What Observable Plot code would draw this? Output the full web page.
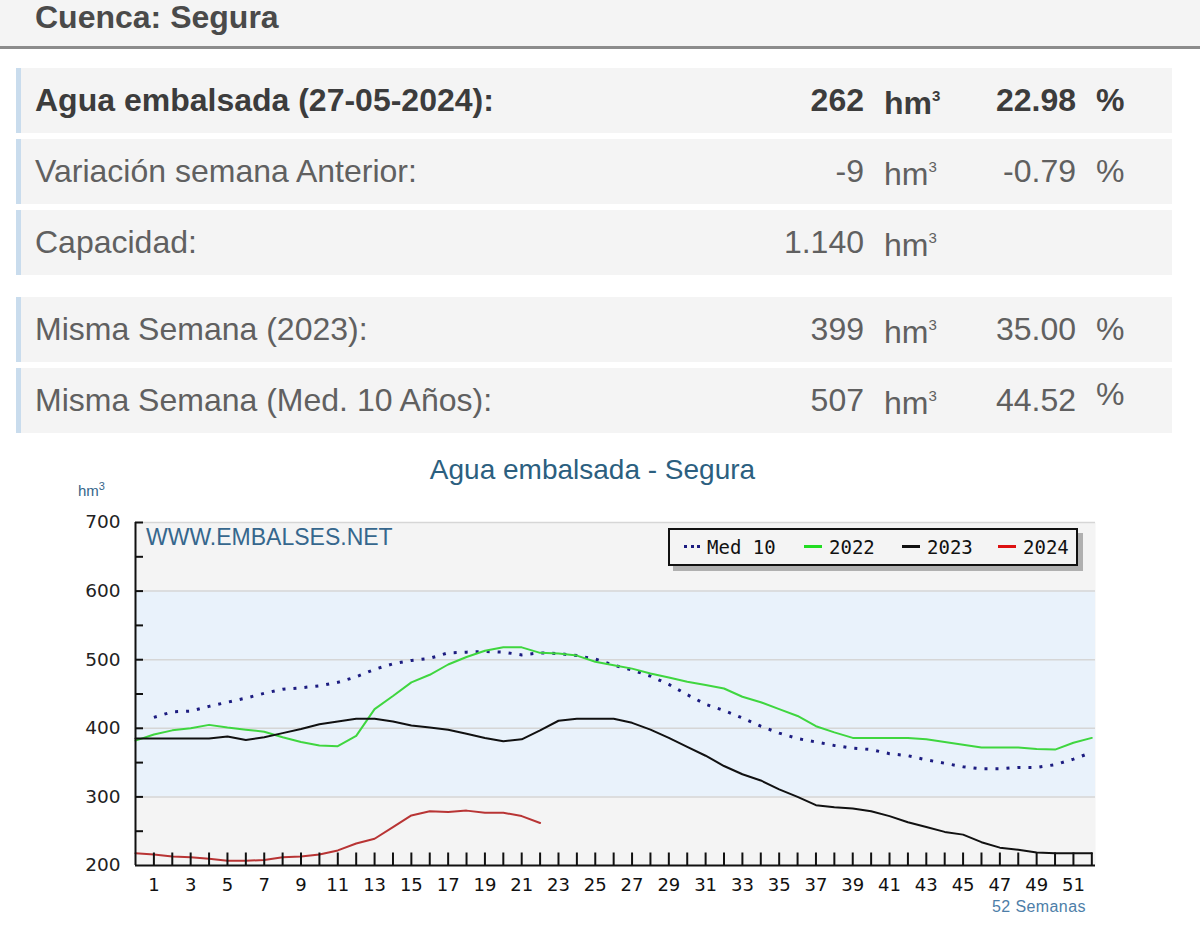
<!DOCTYPE html>
<html><head><meta charset="utf-8">
<script src="https://cdn.jsdelivr.net/npm/d3@7"></script>
<script src="https://cdn.jsdelivr.net/npm/@observablehq/plot@0.6"></script>
<style>
body{margin:0;background:#fff;font-family:"Liberation Sans",Arial,sans-serif;}
#page{position:relative;width:1200px;height:948px;overflow:hidden;background:#fff;}
.hdr{position:absolute;left:0;top:0;width:1200px;height:46px;background:#f4f4f4;border-bottom:3px solid #8c8c8c;}
.hdr span{position:absolute;left:35px;top:-1px;font-size:32px;font-weight:bold;color:#4a4a4a;}
.row{position:absolute;left:16px;width:1151px;height:65px;background:#f4f4f4;border-left:5px solid #c9dced;font-size:32px;color:#606060;}
.row.bold{font-weight:bold;color:#3c3c3c;}
.row span{position:absolute;top:0;line-height:65px;white-space:nowrap;}
.row sup{font-size:15px;vertical-align:0;position:relative;top:-13px;}
#chart{position:absolute;left:0;top:445px;}
.ov{position:absolute;white-space:nowrap;}
#legend{position:absolute;left:668px;top:528px;width:406px;height:34px;background:#f4f4f4;border:2px solid #111;box-shadow:5px 5px 0 #b0b0b0;font-family:"DejaVu Sans Mono",monospace;font-size:19px;color:#111;}
#legend .it{position:absolute;top:0;line-height:34px;}
#legend .sw{display:inline-block;vertical-align:middle;width:18px;height:0;margin-right:7px;position:relative;top:-2px;}
</style></head>
<body><div id="page">
<div class="hdr"><span>Cuenca: Segura</span></div>
</div>
<script>
// ---- table data ----
const rowLabels = ["Agua embalsada (27-05-2024):","Variación semana Anterior:","Capacidad:","Misma Semana (2023):","Misma Semana (Med. 10 Años):"];
const rowValues = ["262","-9","1.140","399","507"];
const rowPcts = ["22.98","-0.79","","35.00","44.52"];
const rowTops = [68,139,210,297,368];

// ---- chart data ----
const weeks = [0,1,2,3,4,5,6,7,8,9,10,11,12,13,14,15,16,17,18,19,20,21,22,23,24,25,26,27,28,29,30,31,32,33,34,35,36,37,38,39,40,41,42,43,44,45,46,47,48,49,50,51,52];
const med10 = [null,416,424,425,432,438,444,451,457,459,462,467,475,486,494,499,502,510,511,512,511,507,510,509,506,501,492,485,476,464,449,435,426,415,403,393,385,380,375,371,369,363,360,354,349,344,341,341,343,343,347,355,365];
const y2022 = [382,391,397,400,405,401,398,395,387,380,375,374,389,428,447,467,478,493,504,513,518,518,510,509,506,497,492,487,480,474,468,463,458,446,438,428,418,403,394,386,386,386,386,384,380,376,372,372,372,370,369,379,386];
const y2023 = [385,385,385,385,385,388,383,387,393,399,406,410,414,414,410,404,401,398,392,386,381,384,397,411,414,414,414,408,398,386,373,360,345,333,324,311,300,288,285,283,279,272,263,256,249,245,234,226,223,219,218,218,218];
const y2024 = [218,216,213,212,210,207,207,208,212,213,216,222,232,239,256,273,279,278,280,277,277,272,262];
const xTickWeeks = [1,2,3,4,5,6,7,8,9,10,11,12,13,14,15,16,17,18,19,20,21,22,23,24,25,26,27,28,29,30,31,32,33,34,35,36,37,38,39,40,41,42,43,44,45,46,47,48,49,50,51,52];
const xLabelWeeks = [1,3,5,7,9,11,13,15,17,19,21,23,25,27,29,31,33,35,37,39,41,43,45,47,49,51];
const yLabels = [200,300,400,500,600,700];
const yMinor = [250,300,350,400,450,500,550,600,650,700];
const gridLines = [300,400,500,600,700];
const band = [{lo:300, hi:600}];
const seriesNames = ["Med 10","2022","2023","2024"];
const seriesColors = ["#1c1c80","#3fd63f","#111111","#b83434"];
const legendColors = ["#1c1c80","#22dd22","#111111","#dd1111"];

const page = document.getElementById("page");

// table rows
rowLabels.forEach((lab,i)=>{
  const r = document.createElement("div");
  r.className = "row" + (i===0 ? " bold" : "");
  r.style.top = rowTops[i] + "px";
  let html = `<span style="left:14px">${lab}</span>`;
  html += `<span style="left:0;width:843px;text-align:right">${rowValues[i]}</span>`;
  html += `<span style="left:863px;top:3px">hm<sup>3</sup></span>`;
  if (rowPcts[i]) {
    html += `<span style="left:0;width:1055px;text-align:right">${rowPcts[i]}</span>`;
    html += `<span style="left:1075px;${i===4?'top:-6px':''}">%</span>`;
  }
  r.innerHTML = html;
  page.appendChild(r);
});

const table = weeks.map((w,i)=>({week:w, med10:med10[i], y2022:y2022[i], y2023:y2023[i]}));
const table24 = y2024.map((v,i)=>({week:weeks[i], v}));
const xTickRows = xTickWeeks.map(w => ({week:w}));

const tickFont = "DejaVu Sans, Verdana, sans-serif";
const W = 1200, H = 480, ML = 135, MR = 105, MT = 77, MB = 60;
const yMin = 200, yMax = 700;
const tickLenData = (yMax - yMin) * 13 / (H - MT - MB); // 13px in data units
const chart = Plot.plot({
  width:W, height:H,
  marginLeft:ML, marginRight:MR, marginTop:MT, marginBottom:MB,
  style:{background:"transparent", fontFamily:tickFont, fontSize:"18px", color:"#1a1a1a", overflow:"visible"},
  x:{domain:[0,52.2], label:null},
  y:{domain:[yMin,yMax], label:null},
  marks:[
    Plot.frame({fill:"#f4f4f4", stroke:null}),
    Plot.rect(band, {y1:"lo", y2:"hi", fill:"#e9f2fb"}),
    Plot.ruleY(gridLines, {stroke:"#d6d6d6", strokeWidth:1.5}),
    Plot.line(table, {x:"week", y:"med10", stroke:seriesColors[0], strokeWidth:3, strokeDasharray:"3,8", strokeLinecap:"butt"}),
    Plot.line(table, {x:"week", y:"y2022", stroke:seriesColors[1], strokeWidth:2}),
    Plot.line(table, {x:"week", y:"y2023", stroke:seriesColors[2], strokeWidth:2}),
    Plot.line(table24, {x:"week", y:"v", stroke:seriesColors[3], strokeWidth:2}),
    // inward ticks
    Plot.link(xTickRows, {x1:"week", x2:"week", y1:()=>yMin, y2:()=>yMin + tickLenData, stroke:"#111", strokeWidth:2}),
    Plot.tickY(yMinor, {y:d=>d, insetRight:(W-ML-MR)-8, stroke:"#111", strokeWidth:2}),
    Plot.ruleX([0], {stroke:"#111", strokeWidth:2}),
    Plot.ruleY([yMin], {stroke:"#111", strokeWidth:2}),
    Plot.axisY(yLabels, {tickSize:0, tickPadding:15, fontSize:18.5, fill:"#222"}),
    Plot.axisX(xLabelWeeks, {tickSize:0, tickPadding:13, fontSize:18, fill:"#111"})
  ]
});
chart.id = "chart";
page.appendChild(chart);

function ov(txt, css){const d=document.createElement("div");d.className="ov";d.style.cssText=css;d.innerHTML=txt;page.appendChild(d);}
ov("Agua embalsada - Segura","left:0;width:1185px;text-align:center;top:454px;font-size:28px;color:#2c5f7f;");
ov("hm<sup style='font-size:11px'>3</sup>","left:78px;top:480px;font-size:15px;color:#35658a;");
ov("WWW.EMBALSES.NET","left:146px;top:524px;font-size:23px;color:#36678d;");
ov("52 Semanas","left:992px;top:898px;font-size:16px;color:#4d7ea8;letter-spacing:0.4px;");

// legend
const lg = document.createElement("div"); lg.id="legend";
const itemLeft = [14,134,232,328];
seriesNames.forEach((n,i)=>{
  const sw = i===0
    ? `<span class="sw" style="border-top:3px dotted ${legendColors[i]};width:16px"></span>`
    : `<span class="sw" style="border-top:3px solid ${legendColors[i]}"></span>`;
  const d = document.createElement("span"); d.className="it"; d.style.left=itemLeft[i]+"px";
  d.innerHTML = sw + n; lg.appendChild(d);
});
page.appendChild(lg);
</script>
</body></html>
